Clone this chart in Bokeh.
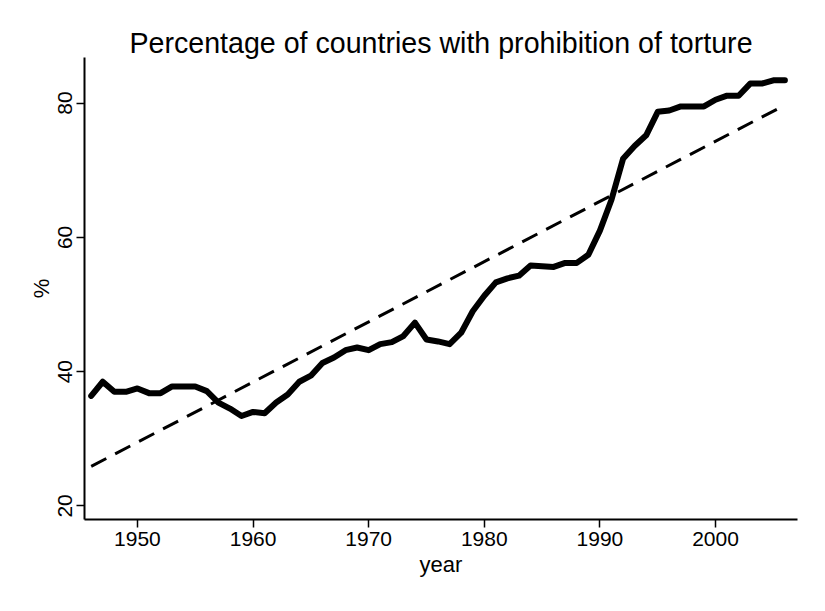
from bokeh.plotting import figure
from bokeh.models import Range1d, FixedTicker
from bokeh.embed import file_html
from bokeh.resources import INLINE

# ---- data ----
years = list(range(1946, 2007))
pct = [36.4, 38.5, 37.0, 37.0, 37.5, 36.8, 36.8, 37.8, 37.8, 37.8,
       37.1, 35.4, 34.5, 33.4, 34.0, 33.8, 35.4, 36.6, 38.5, 39.4,
       41.3, 42.1, 43.2, 43.6, 43.2, 44.1, 44.4, 45.3, 47.3, 44.8,
       44.5, 44.1, 45.8, 49.0, 51.3, 53.3, 53.9, 54.3, 55.8, 55.7,
       55.6, 56.2, 56.2, 57.4, 61.0, 65.6, 71.7, 73.6, 75.2, 78.7,
       78.9, 79.5, 79.5, 79.5, 80.5, 81.1, 81.1, 82.9, 82.9, 83.4,
       83.4]
fit_years = [1946, 2006]
fit_pct = [25.9, 79.7]
x_ticks = [1950, 1960, 1970, 1980, 1990, 2000]
y_ticks = [20, 40, 60, 80]
title_text = "Percentage of countries with prohibition of torture"
x_label = "year"
y_label = "%"

FONT = "Liberation Sans"

p = figure(width=809, height=595, output_backend="svg", toolbar_location=None,
           x_range=Range1d(1945.42, 2007.09), y_range=Range1d(17.98, 86.79),
           min_border_left=84, min_border_right=12, min_border_top=57,
           min_border_bottom=76)
p.background_fill_color = "white"
p.border_fill_color = "white"
p.outline_line_color = None
p.grid.visible = False

p.title.text = title_text
p.title.align = "center"
p.title.text_font = FONT
p.title.text_font_size = "28.6px"
p.title.text_font_style = "normal"
p.title.text_color = "black"
p.title.standoff = -3

for ax in (p.xaxis[0], p.yaxis[0]):
    ax.axis_line_color = "black"
    ax.axis_line_width = 2
    ax.major_tick_line_color = "black"
    ax.major_tick_line_width = 1.5
    ax.major_tick_out = 8
    ax.major_tick_in = 0
    ax.minor_tick_line_color = None
    ax.major_label_text_font = FONT
    ax.major_label_text_font_size = "21px"
    ax.major_label_text_color = "black"
    ax.axis_label_text_font = FONT
    ax.axis_label_text_font_size = "22px"
    ax.axis_label_text_font_style = "normal"
    ax.axis_label_text_color = "black"
    ax.major_label_standoff = 4

p.xaxis.ticker = FixedTicker(ticks=x_ticks)
p.yaxis.ticker = FixedTicker(ticks=y_ticks)
p.yaxis.major_label_orientation = "vertical"
p.xaxis.axis_label = x_label
p.yaxis.axis_label = y_label
p.xaxis.axis_label_standoff = 3
p.yaxis.axis_label_standoff = 2

p.line(fit_years, fit_pct, line_color="black", line_width=3, line_dash="17 10")
p.line(years, pct, line_color="black", line_width=6, line_join="round", line_cap="round")

open("out.html", "w").write(file_html(p, INLINE))
